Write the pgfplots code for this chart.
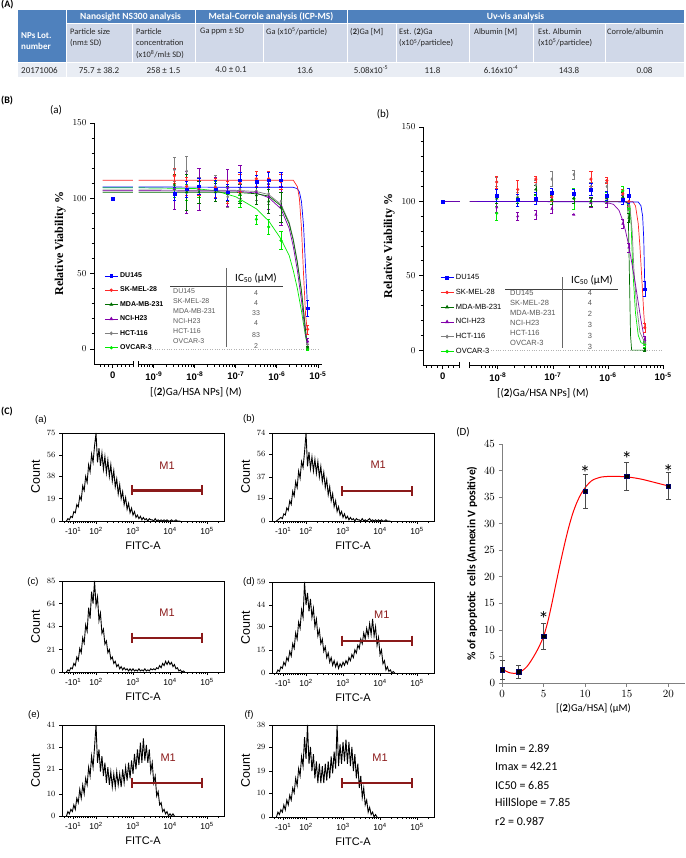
\documentclass[border=0pt]{standalone}
\usepackage{pgfplots}
\pgfplotsset{compat=1.18}
\usepackage{fontspec}
\setmainfont{Carlito}
\newfontfamily\arial{Liberation Sans}
\newfontfamily\tnr{Liberation Serif}

\definecolor{hdr}{HTML}{4F81BD}
\definecolor{rowa}{HTML}{D0D8E8}
\definecolor{rowb}{HTML}{E9EDF4}
\definecolor{mone}{HTML}{8B1A1A}
\definecolor{cDU}{RGB}{0,0,255}
\definecolor{cSK}{RGB}{255,40,40}
\definecolor{cMDA}{RGB}{0,110,0}
\definecolor{cNCI}{RGB}{130,0,170}
\definecolor{cHCT}{RGB}{128,128,128}
\definecolor{cOV}{RGB}{0,235,0}

\tikzset{m1lab/.style={mone, font=\arial\fontsize{11}{12}\selectfont}}
\pgfplotsset{
  legend image code/.code={\draw[mark repeat=2,mark phase=2,#1] plot coordinates {(0pt,0pt)(6.5pt,0pt)(13pt,0pt)};},
  vb/.style={scale only axis, axis lines*=left, clip=false, unbounded coords=jump,
    ymin=-10, ymax=150, ytick={0,50,100,150}, minor y tick num=4,
    tick align=outside, major tick length=4pt, minor tick length=2.5pt,
    axis line style={line width=1pt}, tick style={line width=0.8pt, black},
    x axis line style={draw=none},
    tick label style={font=\arial\bfseries\fontsize{9.5}{10}\selectfont},
    ylabel={\tnr\bfseries Relative Viability \%},
    ylabel style={font=\fontsize{12}{13}\selectfont},
    xlabel={[(\textbf{2})Ga/HSA NPs] (M)},
    xlabel style={font=\fontsize{11}{12}\selectfont},
    legend cell align=left,
    legend style={draw=none, fill=none, row sep=4pt, inner sep=0pt}},
  curve/.style={line width=0.7pt, no marks},
  pts/.style={only marks, mark size=1.4pt,
    error bars/y dir=both, error bars/y explicit,
    error bars/error bar style={line width=0.55pt},
    error bars/error mark options={rotate=90, mark size=1.6pt, line width=0.55pt}},
  hist/.style={scale only axis, width=162pt, xmin=1.08, xmax=5.46, ymin=0, clip=false,
    axis line style={line width=0.9pt},
    xtick={1.38,2,3,4,5},
    xticklabels={-10\textsuperscript{1},10\textsuperscript{2},10\textsuperscript{3},10\textsuperscript{4},10\textsuperscript{5}},
    minor xtick={1.15,1.25,1.3,1.45,1.5,1.55,1.6,1.65,1.7,1.75,1.8,1.85,1.9,1.95,2.301,2.477,2.602,2.699,2.778,2.845,2.903,2.954,3.301,3.477,3.602,3.699,3.778,3.845,3.903,3.954,4.301,4.477,4.602,4.699,4.778,4.845,4.903,4.954,5.301},
    minor y tick num=4, tick pos=left, tick align=outside,
    major tick length=3pt, minor tick length=2pt,
    tick style={black, line width=0.5pt},
    tick label style={font=\arial\fontsize{8.5}{9}\selectfont},
    ylabel={Count}, ylabel style={font=\arial\fontsize{12.5}{13}\selectfont},
    xlabel={FITC-A}, xlabel style={font=\arial\fontsize{11}{12}\selectfont}},
  histln/.style={black, line width=0.9pt, no marks},
  m1bar/.style={mone, line width=2.2pt, mark=|, mark size=5pt, mark options={line width=1.6pt, solid}},
}

\begin{document}
\begin{tikzpicture}[x=1pt,y=1pt]
\path[use as bounding box] (0,0) rectangle (685,-858);

% ---------- (A) table
\node[anchor=west, inner sep=0, font=\bfseries\fontsize{10}{11}\selectfont] at (1,-5) {(A)};
\fill[hdr] (18,-10) rectangle (66,-63);
\fill[hdr] (66,-10) rectangle (684,-24);
\foreach \a/\b in {66/132,132/195,195/263,263/347,347/396,396/469,469/533,533/605,605/684}
  \fill[rowa] (\a,-24) rectangle (\b,-63);
\fill[rowb] (18,-63) rectangle (684,-77);
\draw[white, line width=1pt] (66,-24) -- (684,-24) (18,-63) -- (684,-63);
\draw[white, line width=1pt] (66,-10) -- (66,-77) (195,-10) -- (195,-63) (347,-10) -- (347,-63);
\foreach \a in {132,263,396,469,533,605} \draw[white, line width=1pt] (\a,-24) -- (\a,-63);
\begin{scope}[every node/.style={inner sep=0pt, font=\bfseries\fontsize{9.5}{11}\selectfont, text=white}]
\node[anchor=west, align=left, font=\bfseries\fontsize{9}{11}\selectfont] at (21,-41) {NPs Lot.\\number};
\node at (130.5,-17) {Nanosight NS300 analysis};
\node at (271,-17) {Metal-Corrole analysis (ICP-MS)};
\node at (515.5,-17) {Uv-vis analysis};
\end{scope}
\begin{scope}[every node/.style={inner sep=0pt, anchor=north west, align=left, font=\fontsize{8.4}{11.5}\selectfont, text=black!85}]
\node at (70,-28) {Particle size\\(nm± SD)};
\node at (136,-28) {Particle\\concentration\\(x10\textsuperscript{8}/ml± SD)};
\node at (200,-28) {Ga ppm ± SD};
\node at (266,-28) {Ga (x10\textsuperscript{5}/particle)};
\node at (350,-28) {(\textbf{2})Ga [M]};
\node at (399,-28) {Est. (\textbf{2})Ga\\(x10\textsuperscript{5}/particlee)};
\node at (474,-28) {Albumin [M]};
\node at (538,-28) {Est. Albumin\\(x10\textsuperscript{5}/particlee)};
\node at (607,-28) {Corrole/albumin};
\end{scope}
\begin{scope}[every node/.style={inner sep=0pt, font=\fontsize{9}{10}\selectfont, text=black!85}]
\node[anchor=west] at (21,-70) {20171006};
\node at (99,-70) {75.7 ± 38.2};
\node at (163.5,-70) {258 ± 1.5};
\node at (231,-70) {4.0 ± 0.1};
\node at (305,-70) {13.6};
\node at (371,-70) {5.08x10\textsuperscript{-5}};
\node at (432.5,-70) {11.8};
\node at (501,-70) {6.16x10\textsuperscript{-4}};
\node at (569,-70) {143.8};
\node at (644.5,-70) {0.08};
\end{scope}

% ---------- (B) labels
\node[anchor=west, inner sep=0, font=\bfseries\fontsize{10}{11}\selectfont] at (1,-101) {(B)};
\node[font=\fontsize{11}{12}\selectfont] at (56,-110) {(a)};
\node[font=\fontsize{11}{12}\selectfont] at (383,-114) {(b)};

% ---------- (B)(a)
\begin{axis}[vb, at={(94pt,-364pt)}, anchor=south west, width=228pt, height=241pt,
  xmin=-10.46, xmax=-4.9,
  xtick={-10,-9,-8,-7,-6,-5},
  xticklabels={0,10\textsuperscript{-9},10\textsuperscript{-8},10\textsuperscript{-7},10\textsuperscript{-6},10\textsuperscript{-5}},
  minor xtick={-10.3,-10.2,-10.1,-9.9,-9.8,-9.7,-9.6,-9.301,-9.222,-9.155,-9.097,-9.046,-8.699,-8.523,-8.398,-8.301,-8.222,-8.155,-8.097,-8.046,-7.699,-7.523,-7.398,-7.301,-7.222,-7.155,-7.097,-7.046,-6.699,-6.523,-6.398,-6.301,-6.222,-6.155,-6.097,-6.046,-5.699,-5.523,-5.398,-5.301,-5.222,-5.155,-5.097,-5.046},
  xlabel style={xshift=-12pt},
  legend style={at={(0.045,0.388)}, anchor=north west, font=\arial\bfseries\fontsize{7}{8}\selectfont}]
\addlegendimage{cDU, mark=square*, mark size=1.3pt, line width=0.7pt}
\addlegendimage{cSK, mark=*, mark size=1.3pt, line width=0.7pt}
\addlegendimage{cMDA, mark=triangle*, mark size=1.6pt, line width=0.7pt}
\addlegendimage{cNCI, mark=triangle*, mark size=1.6pt, line width=0.7pt}
\addlegendimage{cHCT, mark=diamond*, mark size=1.5pt, line width=0.7pt}
\addlegendimage{cOV, mark=*, mark size=1.3pt, line width=0.7pt}
\addplot[black!30, dotted, forget plot] coordinates {(-9.1,0)(-4.95,0)};
\addplot[cOV,curve] coordinates {(-10.25,107)(-9.51,107)(-9.44,nan)(-9.37,107)(-8,106.5)(-7.5,105)(-7,101)(-6.5,93)(-6.2,85)(-5.9,73)(-5.7,62)(-5.6,52)(-5.5,40)(-5.4,25)(-5.3,8)(-5.25,2)};
\addplot[cHCT,curve] coordinates {(-10.25,105.5)(-9.51,105.5)(-9.44,nan)(-9.37,105.5)(-7,105.3)(-6.5,104.5)(-6.2,102.5)(-5.9,96)(-5.7,84)(-5.6,73)(-5.5,58)(-5.4,39)(-5.3,13)(-5.25,2)};
\addplot[cNCI,curve] coordinates {(-10.25,105)(-9.51,105)(-9.44,nan)(-9.37,105)(-7,104.8)(-6.5,103.5)(-6.2,100.5)(-5.9,93)(-5.7,80)(-5.6,68)(-5.5,52)(-5.4,32)(-5.3,9)(-5.25,2)};
\addplot[cMDA,curve] coordinates {(-10.25,104)(-9.51,104)(-9.44,nan)(-9.37,104)(-7,104)(-6.5,103)(-6.2,101.5)(-5.9,95)(-5.7,83)(-5.6,72)(-5.5,57)(-5.4,38)(-5.3,12)(-5.25,0)};
\addplot[cDU,curve] coordinates {(-10.25,107.5)(-9.51,107.5)(-9.44,nan)(-9.37,107.5)(-5.6,107.3)(-5.5,106.4)(-5.45,104.2)(-5.4,97.7)(-5.35,81.7)(-5.3,53.8)(-5.25,25.8)};
\addplot[cSK,curve] coordinates {(-10.25,112)(-9.51,112)(-9.44,nan)(-9.37,112)(-5.6,112)(-5.5,107.7)(-5.45,99.5)(-5.4,80)(-5.35,49.6)(-5.3,22.5)(-5.25,10)};
\addplot[cOV, mark=*, pts] coordinates {(-8.5,106)+-(0,5) (-8.2,104)+-(0,5) (-7.9,106)+-(0,5) (-7.5,106)+-(0,5) (-7.2,103)+-(0,5) (-6.9,98)+-(0,4) (-6.5,86)+-(0,3) (-6.2,81)+-(0,5) (-5.9,72)+-(0,6) (-5.25,0)+-(0,1)};
\addplot[cHCT, mark=diamond*, pts] coordinates {(-8.5,119)+-(0,8) (-8.2,118)+-(0,10) (-7.9,108)+-(0,6) (-7.5,108)+-(0,7) (-7.2,101)+-(0,7) (-6.9,106)+-(0,6) (-6.5,105)+-(0,6) (-6.2,103)+-(0,7) (-5.9,98)+-(0,9) (-5.25,3)+-(0,2)};
\addplot[cNCI, mark=triangle*, pts] coordinates {(-8.5,106)+-(0,13) (-8.2,104)+-(0,14) (-7.9,106)+-(0,14) (-7.5,107)+-(0,7) (-7.2,107)+-(0,12) (-6.9,110)+-(0,12) (-6.5,104)+-(0,8) (-6.2,101)+-(0,8) (-5.9,95)+-(0,13) (-5.25,5)+-(0,2)};
\addplot[cMDA, mark=triangle*, pts] coordinates {(-8.5,109)+-(0,7) (-8.2,104)+-(0,12) (-7.9,104)+-(0,7) (-7.5,104)+-(0,6) (-7.2,103)+-(0,5) (-6.9,103)+-(0,6) (-6.5,102)+-(0,6) (-6.2,98)+-(0,8) (-5.9,94)+-(0,10) (-5.25,1)+-(0,1)};
\addplot[cSK, mark=*, pts] coordinates {(-8.5,115)+-(0,5) (-8.2,108)+-(0,6) (-7.9,107)+-(0,5) (-7.5,107)+-(0,6) (-7.2,104)+-(0,7) (-6.9,110)+-(0,6) (-6.5,113)+-(0,5) (-6.2,113)+-(0,5) (-5.9,111)+-(0,5) (-5.25,13)+-(0,3)};
\addplot[cDU, mark=square*, pts] coordinates {(-10,100)+-(0,0) (-8.5,103)+-(0,4) (-8.2,106)+-(0,5) (-7.9,108)+-(0,5) (-7.5,106)+-(0,6) (-7.2,104)+-(0,5) (-6.9,112)+-(0,5) (-6.5,111)+-(0,4) (-6.2,112)+-(0,5) (-5.9,112)+-(0,5) (-5.25,27)+-(0,5)};
\draw[line width=1pt] (axis cs:-10.46,-10) -- (axis cs:-9.51,-10);
\draw[line width=1pt] (axis cs:-9.37,-10) -- (axis cs:-4.9,-10);
\draw[line width=0.8pt] (axis cs:-9.51,-10) ++(0pt,-3pt) -- ++(0pt,6pt);
\draw[line width=0.8pt] (axis cs:-9.37,-10) ++(0pt,-3pt) -- ++(0pt,6pt);
\legend{DU145,SK-MEL-28,MDA-MB-231,NCI-H23,HCT-116,OVCAR-3}
\end{axis}
% IC50 table (a)
\node[font=\fontsize{11}{12}\selectfont] at (256,-278) {IC\textsubscript{50} (μM)};
\draw[black!75, line width=0.5pt] (170,-286) -- (283,-286);
\draw[black!60, line width=0.6pt] (226,-268) -- (226,-347);
\begin{scope}[every node/.style={inner sep=0pt, font=\arial\fontsize{7}{8}\selectfont, text=black!65}]
\node[anchor=west] at (173,-291) {DU145};
\node[anchor=west] at (173,-301) {SK-MEL-28};
\node[anchor=west] at (173,-311.5) {MDA-MB-231};
\node[anchor=west] at (173,-321) {NCI-H23};
\node[anchor=west] at (173,-331) {HCT-116};
\node[anchor=west] at (173,-341) {OVCAR-3};
\node at (256,-293) {4};
\node at (256,-303) {4};
\node at (256,-313) {33};
\node at (256,-323) {4};
\node at (256,-335) {83};
\node at (256,-346) {2};
\end{scope}

% ---------- (B)(b)
\begin{axis}[vb, at={(423pt,-365pt)}, anchor=south west, width=240pt, height=238pt,
  xmin=-9.36, xmax=-5.0,
  xtick={-9,-8,-7,-6,-5},
  xticklabels={0,10\textsuperscript{-8},10\textsuperscript{-7},10\textsuperscript{-6},10\textsuperscript{-5}},
  minor xtick={-9.3,-9.2,-9.1,-8.9,-8.8,-8.301,-8.222,-8.155,-8.097,-8.046,-7.699,-7.523,-7.398,-7.301,-7.222,-7.155,-7.097,-7.046,-6.699,-6.523,-6.398,-6.301,-6.222,-6.155,-6.097,-6.046,-5.699,-5.523,-5.398,-5.301,-5.222,-5.155,-5.097,-5.046},
  legend style={at={(0.071,0.39)}, anchor=north west, font=\arial\mdseries\fontsize{7.5}{8}\selectfont}]
\addlegendimage{cDU, mark=square*, mark size=1.3pt, line width=0.7pt}
\addlegendimage{cSK, mark=*, mark size=1.3pt, line width=0.7pt}
\addlegendimage{cMDA, mark=triangle*, mark size=1.6pt, line width=0.7pt}
\addlegendimage{cNCI, mark=triangle*, mark size=1.6pt, line width=0.7pt}
\addlegendimage{cHCT, mark=diamond*, mark size=1.5pt, line width=0.7pt}
\addlegendimage{cOV, mark=*, mark size=1.3pt, line width=0.7pt}
\addplot[black!30, dotted, forget plot] coordinates {(-8.13,0)(-5.0,0)};
\addplot[cOV,curve] coordinates {(-9,100)(-8.69,100)(-8.6,nan)(-8.51,100)(-5.65,100)(-5.6,97)(-5.58,85)(-5.55,55)(-5.5,25)(-5.45,10)(-5.4,5)(-5.33,4)};
\addplot[cHCT,curve] coordinates {(-9,100)(-8.69,100)(-8.6,nan)(-8.51,100)(-5.65,100)(-5.6,96)(-5.56,80)(-5.53,55)(-5.48,30)(-5.42,12)(-5.33,5)};
\addplot[cMDA,curve] coordinates {(-9,100)(-8.69,100)(-8.6,nan)(-8.51,100)(-5.7,100)(-5.65,99)(-5.63,90)(-5.61,50)(-5.59,10)(-5.57,0)(-5.33,0)};
\addplot[cSK,curve] coordinates {(-9,100)(-8.69,100)(-8.6,nan)(-8.51,100)(-5.55,100)(-5.5,97)(-5.45,85)(-5.42,70)(-5.38,45)(-5.35,25)(-5.33,15)};
\addplot[cDU,curve] coordinates {(-9,100)(-8.69,100)(-8.6,nan)(-8.51,100)(-5.45,99.6)(-5.4,97)(-5.37,90)(-5.35,75)(-5.33,41)};
\addplot[cNCI,curve] coordinates {(-9,100)(-8.69,100)(-8.6,nan)(-8.51,100)(-6.1,100)(-5.9,98)(-5.8,94)(-5.73,87)(-5.68,80)(-5.62,70)(-5.55,55)(-5.5,44)(-5.45,32)(-5.4,20)(-5.35,10)(-5.33,7)};
\addplot[cOV, mark=*, pts] coordinates {(-8.02,92)+-(0,5) (-7.64,100)+-(0,3) (-7.31,101)+-(0,3) (-7.02,101)+-(0,3) (-6.62,102)+-(0,7) (-6.31,100)+-(0,3) (-6.02,103)+-(0,3) (-5.73,107)+-(0,3) (-5.62,95)+-(0,3) (-5.33,4)+-(0,2)};
\addplot[cHCT, mark=diamond*, pts] coordinates {(-8.02,113)+-(0,3) (-7.64,103)+-(0,3) (-7.31,111)+-(0,3) (-7.02,115)+-(0,5) (-6.62,118)+-(0,3) (-6.31,110)+-(0,3) (-6.02,110)+-(0,3) (-5.73,104)+-(0,3) (-5.62,97)+-(0,3) (-5.33,5)+-(0,2)};
\addplot[cNCI, mark=triangle*, pts] coordinates {(-8.02,96)+-(0,3) (-7.64,90)+-(0,3) (-7.31,91)+-(0,3) (-7.02,95)+-(0,3) (-6.62,91)+-(0,0) (-6.31,99)+-(0,3) (-6.02,99)+-(0,3) (-5.73,85)+-(0,3) (-5.62,69)+-(0,3) (-5.33,7)+-(0,2)};
\addplot[cMDA, mark=triangle*, pts] coordinates {(-8.02,102)+-(0,3) (-7.64,102)+-(0,3) (-7.31,108)+-(0,3) (-7.02,101)+-(0,3) (-6.62,102)+-(0,3) (-6.31,100)+-(0,3) (-6.02,102)+-(0,3) (-5.73,103)+-(0,3) (-5.62,89)+-(0,3) (-5.33,0)+-(0,1)};
\addplot[cSK, mark=*, pts] coordinates {(-8.02,113)+-(0,4) (-7.64,108)+-(0,6) (-7.31,115)+-(0,2) (-7.02,103)+-(0,3) (-6.62,105)+-(0,3) (-6.31,115)+-(0,5) (-6.02,114)+-(0,2) (-5.73,105)+-(0,3) (-5.62,100)+-(0,3) (-5.33,15)+-(0,3)};
\addplot[cDU, mark=square*, pts] coordinates {(-9,100)+-(0,0) (-8.02,104)+-(0,4) (-7.64,101)+-(0,4) (-7.31,102)+-(0,4) (-7.02,106)+-(0,3) (-6.62,105)+-(0,3) (-6.31,108)+-(0,4) (-6.02,104)+-(0,3) (-5.73,101)+-(0,3) (-5.62,104)+-(0,5) (-5.33,41)+-(0,5)};
\draw[line width=1pt] (axis cs:-9.36,-10) -- (axis cs:-8.69,-10);
\draw[line width=1pt] (axis cs:-8.51,-10) -- (axis cs:-5.0,-10);
\draw[line width=0.8pt] (axis cs:-8.69,-10) ++(0pt,-3pt) -- ++(0pt,6pt);
\draw[line width=0.8pt] (axis cs:-8.51,-10) ++(0pt,-3pt) -- ++(0pt,6pt);
\legend{DU145,SK-MEL-28,MDA-MB-231,NCI-H23,HCT-116,OVCAR-3}
\end{axis}
% IC50 table (b)
\node[font=\fontsize{11}{12}\selectfont] at (592,-280) {IC\textsubscript{50} (μM)};
\draw[black!75, line width=0.5pt] (505,-289) -- (618,-289);
\draw[black!60, line width=0.6pt] (562,-277) -- (562,-348);
\begin{scope}[every node/.style={inner sep=0pt, font=\arial\fontsize{7.5}{8}\selectfont, text=black!65}]
\node[anchor=west] at (510,-293) {DU145};
\node[anchor=west] at (510,-303) {SK-MEL-28};
\node[anchor=west] at (510,-313) {MDA-MB-231};
\node[anchor=west] at (510,-323) {NCI-H23};
\node[anchor=west] at (510,-333) {HCT-116};
\node[anchor=west] at (510,-343) {OVCAR-3};
\node at (590,-293) {4};
\node at (590,-303) {4};
\node at (590,-314) {2};
\node at (590,-325) {3};
\node at (590,-336) {3};
\node at (590,-347) {3};
\end{scope}

% ---------- (C) histograms
\node[anchor=west, inner sep=0, font=\bfseries\fontsize{10}{11}\selectfont] at (1,-412) {(C)};
\begin{scope}[every node/.style={font=\arial\fontsize{9.5}{10}\selectfont, inner sep=0pt}]
\node at (41,-420) {(a)};
\node at (249,-419) {(b)};
\node at (33,-582) {(c)};
\node at (249,-582) {(d)};
\node at (34,-715) {(e)};
\node at (249,-715) {(f)};
\end{scope}

\begin{axis}[hist, at={(62pt,-521pt)}, anchor=south west, height=88pt, ymax=75, ytick={0,19,38,56,75}]
\addplot[histln] table[row sep=\\, header=false, x expr=\coordindex*0.04+1.2, y index=0]
{0\\2\\1\\4\\3\\8\\7\\14\\12\\21\\18\\30\\26\\38\\33\\48\\42\\57\\50\\64\\75\\50\\62\\47\\58\\44\\55\\41\\52\\38\\48\\34\\43\\29\\36\\23\\31\\19\\25\\14\\20\\10\\15\\7\\11\\5\\8\\3\\5\\2\\4\\1\\3\\1\\2\\0\\2\\1\\1\\0\\2\\0\\1\\0\\1\\0\\1\\0\\1\\0\\0\\1\\0\\0\\1\\0\\0\\0\\};
\addplot[m1bar] coordinates {(2.98,26)(4.87,26)};
\node[m1lab] at (axis cs:3.92,47) {M1};
\end{axis}

\begin{axis}[hist, at={(272pt,-521pt)}, anchor=south west, height=88pt, ymax=74, ytick={0,19,37,56,74}]
\addplot[histln] table[row sep=\\, header=false, x expr=\coordindex*0.04+1.2, y index=0]
{0\\1\\2\\3\\2\\6\\5\\11\\9\\17\\14\\25\\21\\33\\28\\42\\36\\50\\45\\58\\74\\46\\58\\44\\54\\42\\52\\40\\50\\37\\46\\33\\41\\28\\35\\22\\29\\17\\23\\12\\17\\8\\12\\5\\8\\3\\6\\2\\4\\1\\3\\1\\2\\0\\2\\1\\1\\0\\2\\0\\1\\0\\1\\2\\0\\1\\0\\1\\0\\1\\0\\1\\0\\0\\1\\0\\0\\0\\};
\addplot[m1bar] coordinates {(2.98,25)(4.87,25)};
\node[m1lab] at (axis cs:3.95,47) {M1};
\end{axis}

\begin{axis}[hist, at={(62pt,-672pt)}, anchor=south west, height=91pt, ymax=85, ytick={0,21,43,64,85}]
\addplot[histln] table[row sep=\\, header=false, x expr=\coordindex*0.04+1.2, y index=0]
{0\\2\\1\\4\\3\\8\\6\\14\\11\\22\\18\\32\\27\\44\\38\\60\\50\\75\\64\\85\\62\\70\\48\\55\\36\\40\\26\\29\\18\\21\\12\\14\\8\\10\\5\\7\\3\\5\\2\\4\\2\\3\\1\\3\\1\\3\\1\\2\\1\\3\\1\\2\\1\\3\\1\\2\\1\\3\\2\\3\\2\\4\\3\\6\\4\\8\\6\\10\\7\\10\\7\\9\\5\\7\\3\\4\\1\\2\\0\\1\\0\\};
\addplot[m1bar] coordinates {(2.98,32)(4.87,32)};
\node[m1lab] at (axis cs:3.92,55) {M1};
\end{axis}

\begin{axis}[hist, at={(272pt,-673pt)}, anchor=south west, height=91pt, ymax=59, ytick={0,15,30,44,59}]
\addplot[histln] table[row sep=\\, header=false, x expr=\coordindex*0.04+1.2, y index=0]
{0\\2\\1\\4\\3\\7\\5\\10\\8\\14\\11\\19\\16\\26\\22\\33\\29\\41\\36\\59\\44\\52\\40\\48\\36\\42\\30\\35\\24\\28\\19\\22\\14\\17\\10\\13\\7\\10\\5\\8\\4\\7\\3\\6\\4\\7\\5\\8\\6\\10\\8\\12\\10\\15\\13\\18\\16\\22\\19\\26\\22\\29\\24\\32\\25\\35\\24\\30\\18\\23\\12\\15\\6\\8\\2\\4\\1\\2\\0\\1\\0\\};
\addplot[m1bar] coordinates {(2.98,21)(4.87,21)};
\node[m1lab] at (axis cs:4.05,37.5) {M1};
\end{axis}

\begin{axis}[hist, at={(62pt,-816pt)}, anchor=south west, height=91pt, ymax=41, ytick={0,10,21,31,41}]
\addplot[histln] table[row sep=\\, header=false, x expr=\coordindex*0.04+1.2, y index=0]
{0\\2\\1\\3\\2\\5\\3\\8\\6\\12\\8\\14\\10\\17\\14\\22\\18\\27\\22\\31\\41\\24\\30\\20\\27\\18\\24\\15\\22\\14\\20\\13\\19\\13\\20\\14\\19\\13\\21\\15\\22\\16\\24\\17\\25\\19\\28\\21\\30\\23\\33\\24\\35\\25\\32\\24\\30\\20\\24\\15\\18\\9\\11\\5\\6\\2\\3\\1\\2\\0\\1\\0\\1\\0\\};
\addplot[m1bar] coordinates {(2.98,15)(4.87,15)};
\node[m1lab] at (axis cs:3.95,26.4) {M1};
\end{axis}

\begin{axis}[hist, at={(272pt,-817pt)}, anchor=south west, height=92pt, ymax=38, ytick={0,10,19,29,38}]
\addplot[histln] table[row sep=\\, header=false, x expr=\coordindex*0.04+1.2, y index=0]
{0\\2\\1\\3\\2\\5\\3\\7\\5\\9\\7\\12\\10\\16\\13\\20\\17\\25\\21\\33\\24\\38\\22\\29\\19\\26\\16\\23\\14\\22\\14\\21\\14\\22\\15\\23\\16\\25\\18\\27\\20\\38\\21\\30\\22\\31\\23\\32\\22\\31\\21\\29\\19\\26\\16\\22\\12\\17\\8\\12\\5\\7\\2\\4\\1\\2\\0\\1\\0\\};
\addplot[m1bar] coordinates {(2.98,14)(4.87,14)};
\node[m1lab] at (axis cs:4.0,24.5) {M1};
\end{axis}

% ---------- (D)
\node[font=\fontsize{11}{12}\selectfont] at (463,-432) {(D)};
\begin{axis}[scale only axis, at={(502pt,-683pt)}, anchor=south west, width=183pt, height=239pt,
  xmin=0, xmax=22, ymin=0, ymax=45, axis lines*=left, clip=false,
  axis line style={black!50, line width=0.7pt},
  xtick={0,5,10,15,20}, ytick={0,5,...,45},
  tick align=outside, major tick length=3.5pt, tick style={black!50, line width=0.7pt},
  tick label style={font=\fontsize{10.5}{11}\selectfont},
  xlabel={[(\textbf{2})Ga/HSA] (μM)}, xlabel style={font=\fontsize{10.5}{11}\selectfont},
  ylabel={\bfseries \% of apoptotic\ \ cells (Annexin V positive)},
  ylabel style={font=\fontsize{11.5}{12}\selectfont}]
\addplot[red, line width=1pt, smooth, no marks] coordinates {(0,2.7)(0.5,2.2)(1,1.9)(1.5,1.8)(2,2.0)(2.5,2.4)(3,3.1)(3.5,4.2)(4,5.5)(4.5,7.0)(5,8.8)(5.5,11.5)(6,15)(6.5,18.8)(7,22.5)(7.5,26)(8,29.2)(8.5,31.9)(9,34)(9.5,35.6)(10,36.8)(10.5,37.7)(11,38.3)(12,38.8)(13,38.9)(14,38.9)(15,38.8)(16,38.6)(17,38.3)(18,37.9)(19,37.5)(20,37.1)};
\addplot[only marks, mark=square*, mark size=2.2pt, mark options={fill=black, draw=blue!40!black},
  error bars/y dir=both, error bars/y explicit,
  error bars/error bar style={black!70, line width=0.6pt},
  error bars/error mark options={rotate=90, mark size=2.5pt, black!70, line width=0.6pt}]
  coordinates {(0,2.5)+-(0,1.8) (2,2.1)+-(0,1.2) (5,8.8)+-(0,2.4) (10,36.1)+-(0,3.2) (15,38.9)+-(0,2.7) (20,37.1)+-(0,2.6)};
\node[font=\fontsize{21}{21}\selectfont] at (axis cs:5,12.0) {*};
\node[font=\fontsize{21}{21}\selectfont] at (axis cs:10,39.5) {*};
\node[font=\fontsize{21}{21}\selectfont] at (axis cs:15,42.1) {*};
\node[font=\fontsize{21}{21}\selectfont] at (axis cs:20,39.7) {*};
\end{axis}
\begin{scope}[every node/.style={anchor=west, inner sep=0pt, font=\fontsize{12}{13}\selectfont}]
\node at (495,-748) {Imin = 2.89};
\node at (495,-767) {Imax = 42.21};
\node at (495,-785) {IC50 = 6.85};
\node at (495,-803) {HillSlope\ = 7.85};
\node at (495,-821) {r2 = 0.987};
\end{scope}
\end{tikzpicture}
\end{document}
